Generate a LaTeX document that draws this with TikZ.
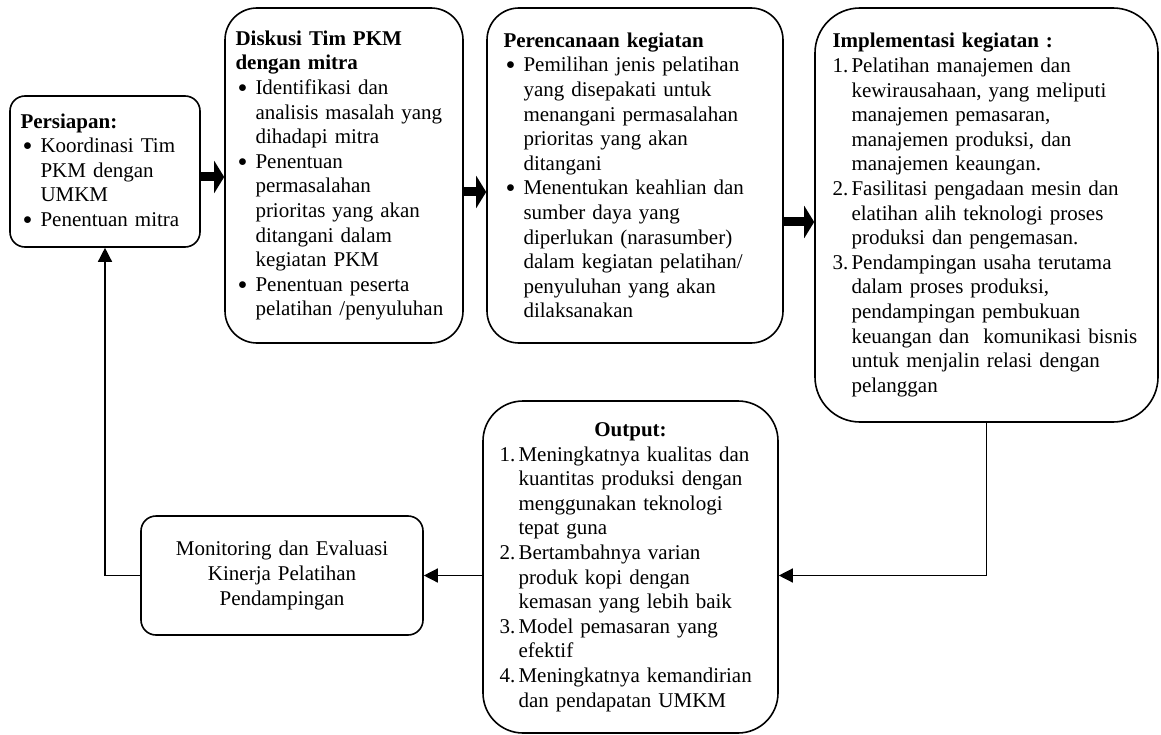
\documentclass[tikz,border=0pt]{standalone}
\usepackage{fontspec}
\setmainfont{Liberation Serif}
\usepackage{enumitem}
\usetikzlibrary{arrows.meta}

\setlist[itemize]{label=\raisebox{-2.8pt}{\scalebox{1.35}{\textbullet}},leftmargin=20pt,labelsep=8pt,itemsep=0pt,parsep=0pt,topsep=0pt,partopsep=0pt}
\setlist[enumerate]{label=\arabic*.,leftmargin=19pt,labelsep=3pt,labelwidth=16pt,align=left,itemsep=0pt,parsep=0pt,topsep=0pt,partopsep=0pt}
\newcommand\diagfont{\fontsize{21}{24.6}\selectfont}

\begin{document}
\begin{tikzpicture}[x=1pt,y=-1pt,
    box/.style={draw,line width=1.6pt,align=left,inner ysep=0pt,font=\diagfont},
    fat/.style={line width=9pt,-{Triangle[length=10pt 0,width=32pt 0]}},
    conn/.style={line width=1.4pt,-{Triangle[length=14pt 0,width=14pt 0]}}]
    % \draw[help lines] grid(1161,735);
    \useasboundingbox (0,0) rectangle (1161,735);

    \node[box,rounded corners=15pt,minimum width=190pt,minimum height=151pt,inner xsep=10pt,text width=169pt] (persiapan) at (105,171.5) {\textbf{Persiapan:}
        \begin{itemize}
            \item Koordinasi Tim\newline PKM dengan\newline UMKM
            \item Penentuan mitra
        \end{itemize}};

    \node[box,rounded corners=32pt,minimum width=238pt,minimum height=335pt,inner xsep=10pt,text width=217pt] (diskusi) at (344,175.5) {\textbf{Diskusi Tim PKM\\dengan mitra}
        \begin{itemize}
            \item Identifikasi dan\newline analisis masalah yang\newline dihadapi mitra
            \item Penentuan\newline permasalahan\newline prioritas yang akan\newline ditangani dalam\newline kegiatan PKM
            \item Penentuan peserta\newline pelatihan /penyuluhan
        \end{itemize}};

    \node[box,rounded corners=32pt,minimum width=296pt,minimum height=335pt,inner xsep=16pt,text width=263pt] (rencana) at (635,175.5) {\textbf{Perencanaan kegiatan}
        \begin{itemize}
            \item Pemilihan jenis pelatihan\newline yang disepakati untuk\newline menangani permasalahan\newline prioritas yang akan\newline ditangani
            \item Menentukan keahlian dan\newline sumber daya yang\newline diperlukan (narasumber)\newline dalam kegiatan pelatihan/\newline penyuluhan yang akan\newline dilaksanakan
        \end{itemize}};

    \node[box,rounded corners=45pt,minimum width=343pt,minimum height=414pt,inner xsep=17pt,text width=308pt] (impl) at (986.5,215) {\textbf{Implementasi kegiatan :}
        \begin{enumerate}
            \item Pelatihan manajemen dan\newline kewirausahaan, yang meliputi\newline manajemen pemasaran,\newline manajemen produksi, dan\newline manajemen keaungan.
            \item Fasilitasi pengadaan mesin dan\newline elatihan alih teknologi proses\newline produksi dan pengemasan.
            \item Pendampingan usaha terutama\newline dalam proses produksi,\newline pendampingan pembukuan\newline keuangan dan\ \ komunikasi bisnis\newline untuk menjalin relasi dengan\newline pelanggan
        \end{enumerate}};

    \node[box,rounded corners=40pt,minimum width=295pt,minimum height=332pt,inner xsep=16pt,text width=262pt] (output) at (630.5,567) {{\centering\textbf{Output:}\par}
        \begin{enumerate}
            \item Meningkatnya kualitas dan\newline kuantitas produksi dengan\newline menggunakan teknologi\newline tepat guna
            \item Bertambahnya varian\newline produk kopi dengan\newline kemasan yang lebih baik
            \item Model pemasaran yang\newline efektif
            \item Meningkatnya kemandirian\newline dan pendapatan UMKM
        \end{enumerate}};

    \node[box,align=center,rounded corners=15pt,minimum width=282pt,minimum height=119pt,inner xsep=10pt,text width=250pt] (monev) at (282,575.5) {Monitoring dan Evaluasi\\Kinerja Pelatihan\\Pendampingan};

    \draw[fat] ([yshift=-5.5pt]persiapan.east) -- ([yshift=-5.5pt]persiapan.east -| diskusi.west);
    \draw[fat] ([yshift=-16.5pt]diskusi.east) -- ([yshift=-16.5pt]diskusi.east -| rencana.west);
    \draw[fat] ([yshift=-46.5pt]rencana.east) -- ([yshift=-46.5pt]rencana.east -| impl.west);

    \draw[conn] (impl.south) |- (monev.east -| output.east);
    \draw[conn] (monev.east -| output.west) -- (monev.east);
    \draw[conn] (monev.west) -| (persiapan.south);
\end{tikzpicture}
\end{document}
